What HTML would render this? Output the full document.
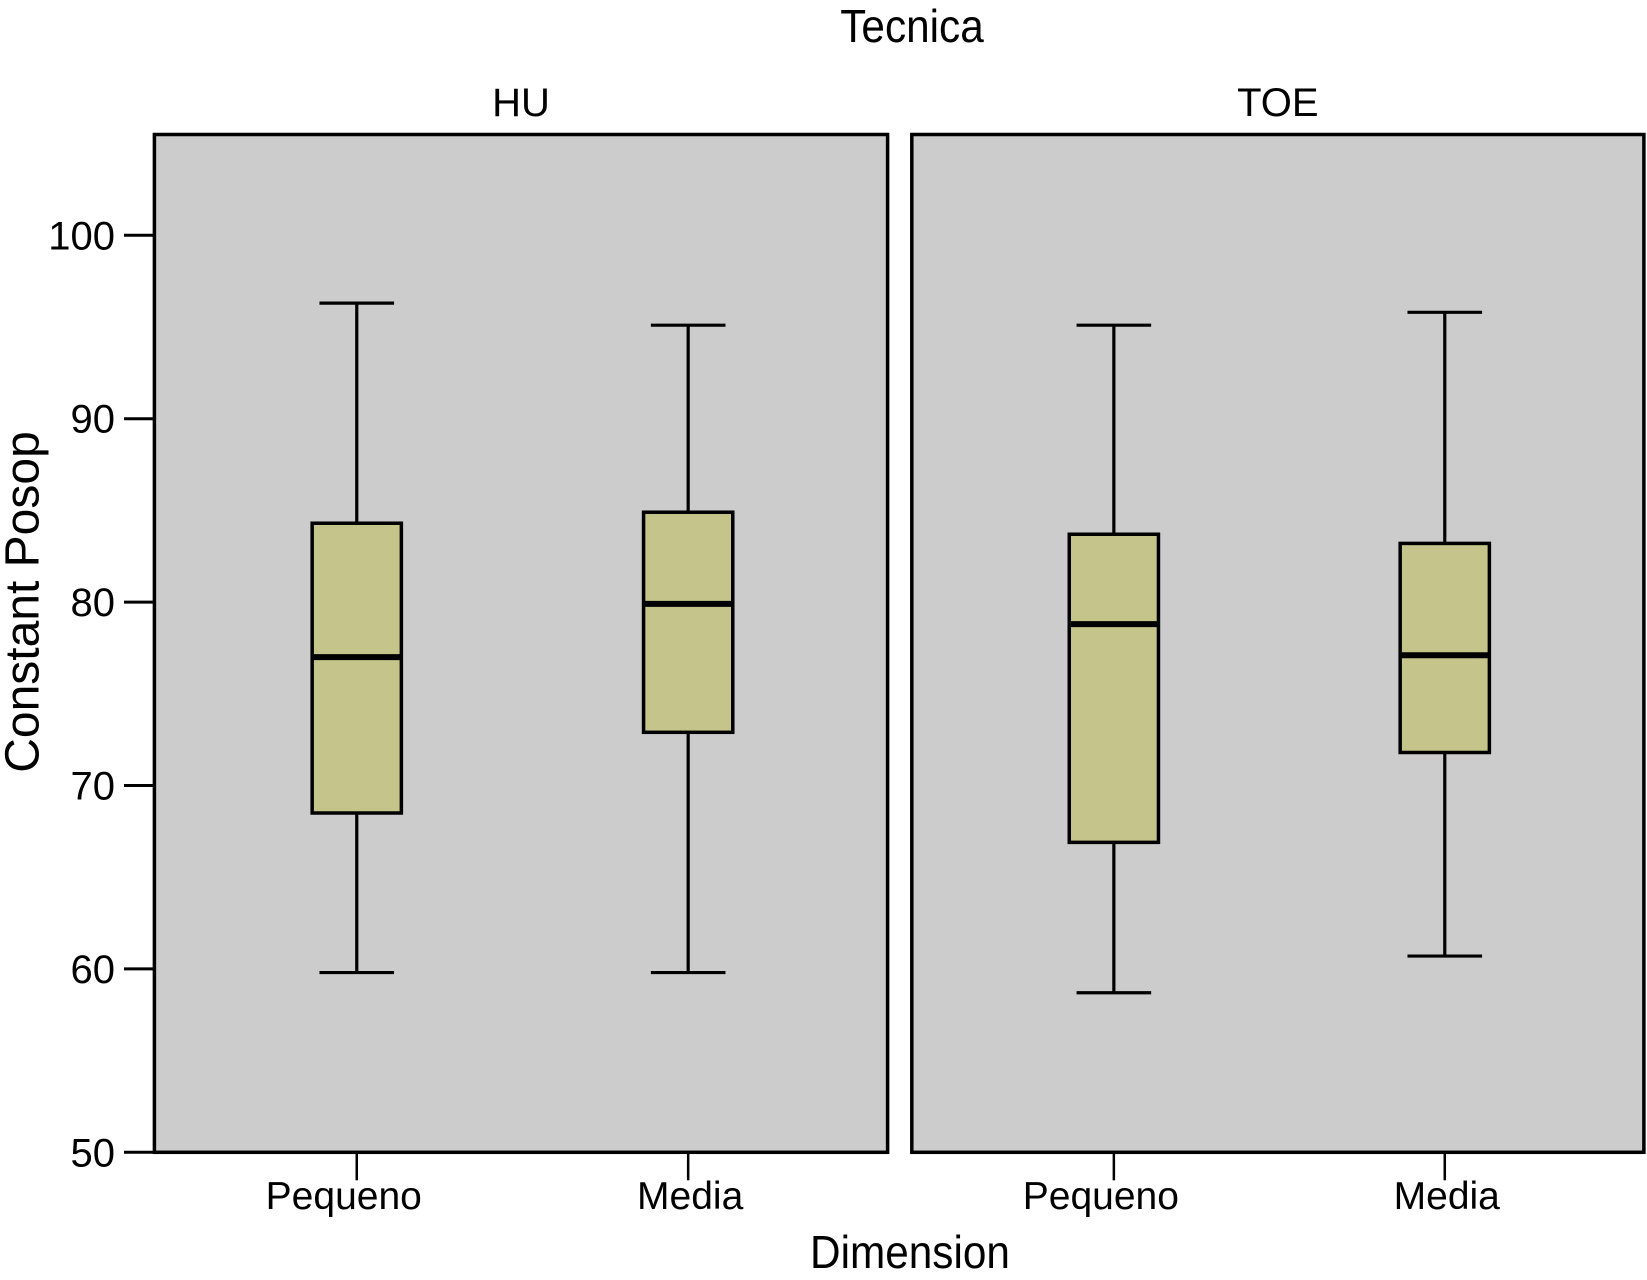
<!DOCTYPE html>
<html><head><meta charset="utf-8"><style>
html,body{margin:0;padding:0;background:#fff;}
svg{display:block;font-family:"Liberation Sans",sans-serif;}
</style></head><body>
<svg id="chart" width="1647" height="1280" viewBox="0 0 1647 1280">
<text x="912" y="42" font-size="46" text-anchor="middle" transform="translate(912,0) scale(0.92,1) translate(-912,0)">Tecnica</text>
<text x="26" y="602" font-size="48" text-anchor="middle" dominant-baseline="middle" transform="rotate(-90 26 602)">Constant Posop</text>
<text x="910" y="1268" font-size="46" text-anchor="middle" transform="translate(910,0) scale(0.92,1) translate(-910,0)">Dimension</text>
<g id="plots"></g>
</svg>
<script>
const panels = ["HU", "TOE"];
const categories = ["Pequeno", "Media"];
const whiskerHigh = [[96.3, 95.1], [95.1, 95.8]];
const q3 = [[84.3, 84.9], [83.7, 83.2]];
const medians = [[77.0, 79.9], [78.8, 77.1]];
const q1 = [[68.5, 72.9], [66.9, 71.8]];
const whiskerLow = [[59.8, 59.8], [58.7, 60.7]];
const yTicks = [50, 60, 70, 80, 90, 100];

const NS = "http://www.w3.org/2000/svg";
const g = document.getElementById("plots");
const plotTop = 134.5, plotBottom = 1152.3;
const yMin = 50, yPerUnit = 18.34;
function y(v){ return plotBottom - (v - yMin) * yPerUnit; }
const panelX = [[154.4, 887.6], [911.8, 1643.9]];
const labelShift = [-13, 2];
function x(p, i){ const [a,b] = panelX[p]; const w = b - a; return a + w * (0.276 + i * 0.452); }
function el(tag, attrs){ const e = document.createElementNS(NS, tag); for (const k in attrs) e.setAttribute(k, attrs[k]); g.appendChild(e); return e; }

panels.forEach((name, p) => {
  const [a,b] = panelX[p];
  const r = el("rect", {x:a, y:plotTop, width:b-a, height:plotBottom-plotTop, fill:"#cccccc", stroke:"#000", "stroke-width":3.5});
  
  
  const t = el("text", {x:(a+b)/2, y:116, "font-size":40, "text-anchor":"middle"});
  t.textContent = name;
  
  
  categories.forEach((c, i) => {
    const cx = x(p, i);
    const tk = el("line", {x1:cx, x2:cx, y1:plotBottom, y2:plotBottom+28, stroke:"#000", "stroke-width":2.5});
    
    
    const lb = el("text", {x:cx + labelShift[i], y:1209, "font-size":39, "text-anchor":"middle"});
    lb.textContent = c;
    
    
    const hw = 44.6, cw = 37.3;
    const w1 = el("line", {x1:cx, x2:cx, y1:y(whiskerHigh[p][i]), y2:y(q3[p][i]), stroke:"#000", "stroke-width":3.2});
    
    
    const w2 = el("line", {x1:cx, x2:cx, y1:y(q1[p][i]), y2:y(whiskerLow[p][i]), stroke:"#000", "stroke-width":3.2});
    
    
    const c1 = el("line", {x1:cx-cw, x2:cx+cw, y1:y(whiskerHigh[p][i]), y2:y(whiskerHigh[p][i]), stroke:"#000", "stroke-width":3.2});
    
    
    const c2 = el("line", {x1:cx-cw, x2:cx+cw, y1:y(whiskerLow[p][i]), y2:y(whiskerLow[p][i]), stroke:"#000", "stroke-width":3.2});
    
    
    const bx = el("rect", {x:cx-hw, y:y(q3[p][i]), width:2*hw, height:y(q1[p][i])-y(q3[p][i]), fill:"#c5c58b", stroke:"#000", "stroke-width":3.5});
    
    
    const md = el("line", {x1:cx-hw, x2:cx+hw, y1:y(medians[p][i]), y2:y(medians[p][i]), stroke:"#000", "stroke-width":6});
    
    
  });
});
yTicks.forEach(v => {
  const tk = el("line", {x1:124, x2:154.4, y1:y(v), y2:y(v), stroke:"#000", "stroke-width":3});
  
  
  const lb = el("text", {x:115, y:y(v)+14, "font-size":40, "text-anchor":"end"});
  lb.textContent = v;
  
  
});
</script>
</body></html>
